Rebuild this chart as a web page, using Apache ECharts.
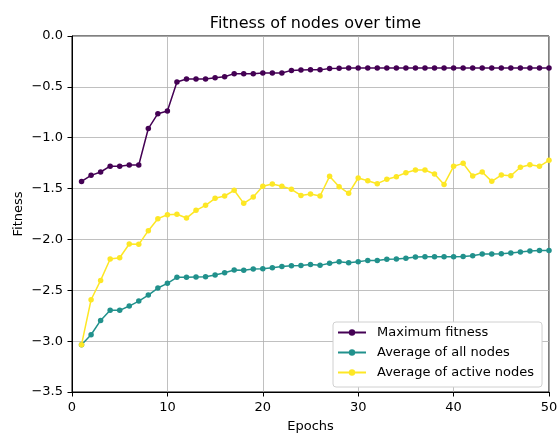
<!DOCTYPE html>
<html>
<head>
<meta charset="utf-8">
<script src="https://cdn.jsdelivr.net/npm/echarts@6/dist/echarts.min.js"></script>
<style>html,body{margin:0;padding:0;background:#fff;}#chart{width:558px;height:435px;}</style>
</head>
<body>
<div id="chart"></div>
<script>
const epochs = [1,2,3,4,5,6,7,8,9,10,11,12,13,14,15,16,17,18,19,20,21,22,23,24,25,26,27,28,29,30,31,32,33,34,35,36,37,38,39,40,41,42,43,44,45,46,47,48,49,50];
const maxFitness = [-1.43,-1.37,-1.337,-1.28,-1.28,-1.268,-1.268,-0.91,-0.764,-0.737,
  -0.452,-0.423,-0.423,-0.423,-0.41,-0.40,-0.37,-0.37,-0.37,-0.364,
  -0.364,-0.364,-0.338,-0.335,-0.333,-0.333,-0.32,-0.318,-0.315,-0.315,
  -0.315,-0.315,-0.315,-0.315,-0.315,-0.315,-0.315,-0.315,-0.315,-0.315,
  -0.315,-0.315,-0.315,-0.315,-0.315,-0.315,-0.315,-0.315,-0.315,-0.315];
const avgAll = [-3.035,-2.937,-2.796,-2.697,-2.697,-2.655,-2.606,-2.547,-2.478,-2.432,
  -2.373,-2.373,-2.370,-2.367,-2.350,-2.327,-2.301,-2.304,-2.291,-2.288,
  -2.278,-2.265,-2.258,-2.256,-2.247,-2.255,-2.235,-2.219,-2.229,-2.219,
  -2.206,-2.206,-2.196,-2.193,-2.186,-2.173,-2.170,-2.170,-2.170,-2.170,
  -2.167,-2.160,-2.144,-2.144,-2.140,-2.134,-2.124,-2.114,-2.108,-2.108];
const avgActive = [-3.035,-2.593,-2.403,-2.193,-2.180,-2.045,-2.048,-1.914,-1.796,-1.757,
  -1.753,-1.790,-1.714,-1.665,-1.596,-1.573,-1.517,-1.645,-1.583,-1.478,
  -1.455,-1.478,-1.507,-1.568,-1.553,-1.573,-1.380,-1.482,-1.547,-1.396,
  -1.423,-1.452,-1.409,-1.383,-1.344,-1.318,-1.318,-1.357,-1.459,-1.281,
  -1.252,-1.377,-1.337,-1.429,-1.367,-1.374,-1.291,-1.265,-1.281,-1.222];
const seriesNames = ['Maximum fitness','Average of all nodes','Average of active nodes'];
const colors = ['#440154','#21918c','#fde725'];

const font = 'DejaVu Sans';
const pair = arr => epochs.map((e,i)=>[e, arr[i]]);
const chart = echarts.init(document.getElementById('chart'), null, {renderer:'canvas'});
const mk = (name, data, color) => ({
  name, type:'line', data: pair(data),
  symbol:'circle', symbolSize:5.5, showSymbol:true,
  lineStyle:{color, width:1.5}, itemStyle:{color},
  animation:false
});
chart.setOption({
  animation:false,
  title:{text:'Fitness of nodes over time', left:310.5, textAlign:'center', top:11,
    textStyle:{fontFamily:font, fontSize:16, fontWeight:'normal', color:'#000'}},
  grid:{left:72, top:36, right:9, bottom:43, show:true, borderColor:'#000', borderWidth:1,
    backgroundColor:'transparent', containLabel:false, outerBoundsMode:'none'},
  legend:{orient:'vertical', left:333, top:322, data:seriesNames,
    backgroundColor:'#fff', borderColor:'#d0d0d0', borderWidth:1, borderRadius:3,
    padding:[4,8,8,4], itemGap:7, itemWidth:28, itemHeight:8,
    textStyle:{fontFamily:font, fontSize:13, color:'#000', padding:[0,0,0,6]}},
  xAxis:{type:'value', min:0, max:50, interval:10, name:'Epochs', nameLocation:'middle', nameGap:28,
    nameMoveOverlap:false,
    nameTextStyle:{fontFamily:font, fontSize:13, color:'#000'},
    axisLine:{show:true, onZero:false, lineStyle:{color:'#000', width:1}},
    axisTick:{show:true, inside:false, length:4.5, lineStyle:{color:'#000'}},
    axisLabel:{fontFamily:font, fontSize:13, color:'#000', margin:9},
    splitLine:{show:true, lineStyle:{color:'#b0b0b0', width:0.8}}},
  yAxis:{type:'value', min:-3.5, max:0, interval:0.5, name:'Fitness', nameLocation:'middle', nameGap:47, nameRotate:90,
    nameMoveOverlap:false,
    nameTextStyle:{fontFamily:font, fontSize:13, color:'#000'},
    axisLine:{show:true, onZero:false, lineStyle:{color:'#000', width:1}},
    axisTick:{show:true, inside:false, length:4.5, lineStyle:{color:'#000'}},
    axisLabel:{fontFamily:font, fontSize:13, color:'#000', margin:9,
      formatter:v=>{const s=Math.abs(v).toFixed(1); return v<0?'\u2212'+s:s;}},
    splitLine:{show:true, lineStyle:{color:'#b0b0b0', width:0.8}}},
  series:[mk(seriesNames[0], maxFitness, colors[0]), mk(seriesNames[1], avgAll, colors[1]), mk(seriesNames[2], avgActive, colors[2])]
});
</script>
</body>
</html>
